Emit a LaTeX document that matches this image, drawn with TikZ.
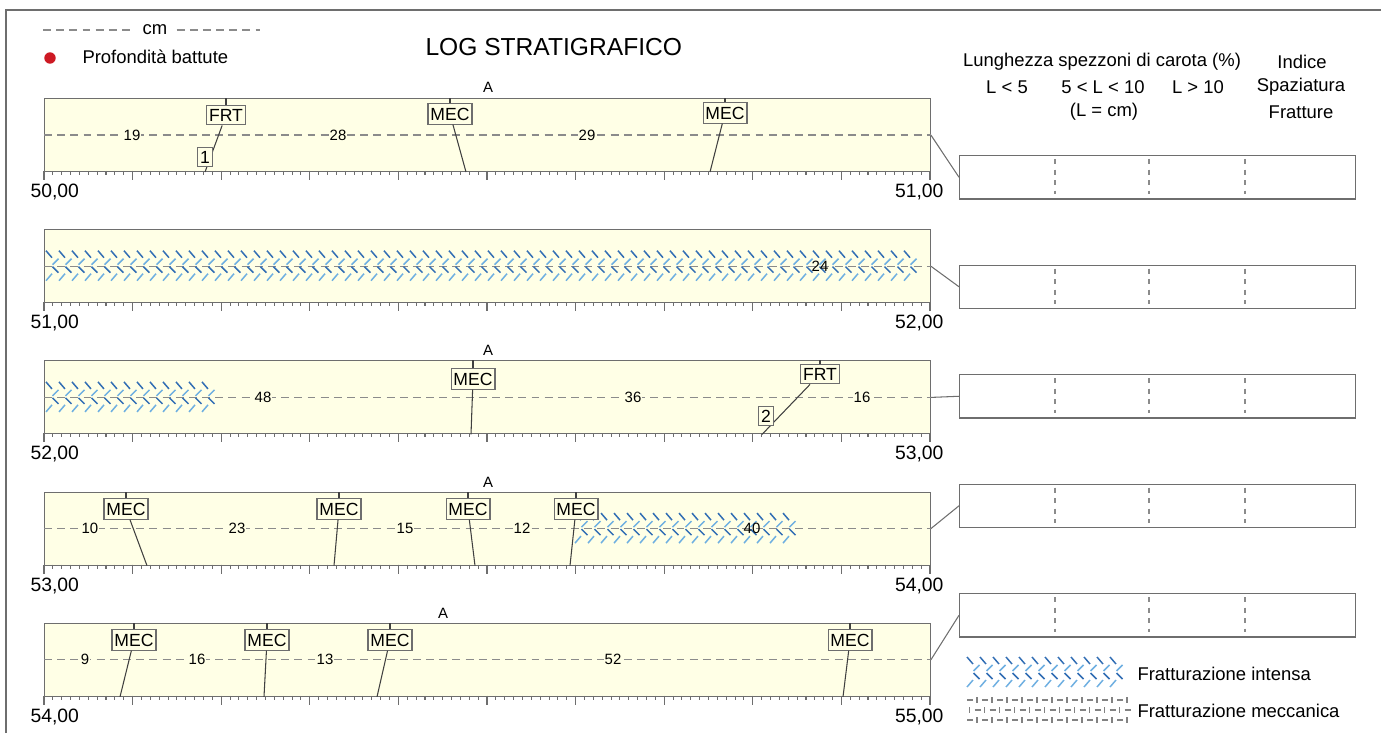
\documentclass[tikz,border=0pt]{standalone}
\usepackage{fontspec}
\setmainfont{Liberation Sans}
\definecolor{stripfill}{RGB}{255,255,230}
\definecolor{linegray}{RGB}{110,110,110}
\definecolor{hatchblue}{RGB}{50,110,180}
\definecolor{hatchlight}{RGB}{110,175,225}
\definecolor{mecgray}{RGB}{130,130,130}
\definecolor{dotred}{RGB}{205,25,35}

% fratturazione intensa: x start, x next, x end, y centre
\newcommand{\intensa}[4]{%
  \foreach \x in {#1,#2,...,#3}{
    \draw[hatchblue,line width=0.85pt] (\x,#4-15) -- ++(6,7);
    \draw[hatchlight,line width=0.85pt] (\x+6.5,#4-1) -- ++(6,-6);
    \draw[hatchblue,line width=0.85pt] (\x+6.5,#4+1) -- ++(6,6);
    \draw[hatchlight,line width=0.85pt] (\x,#4+15) -- ++(6,-7);
  }}

\begin{document}
\begin{tikzpicture}[x=0.02cm,y=-0.02cm,line width=0.6pt,
  every node/.style={inner sep=0pt,font=\fontsize{10.5}{12}\selectfont},
  strip/.style={draw=linegray,fill=stripfill,anchor=north west,minimum width=17.72cm,minimum height=1.46cm},
  cmline/.style={draw=linegray!80,dash pattern=on 4.5pt off 3pt,line width=0.7pt},
  cmval/.style={fill=stripfill,inner sep=0.6pt,font=\fontsize{8.5}{9}\selectfont},
  overval/.style={inner sep=0.6pt,font=\fontsize{8.5}{9}\selectfont},
  tag/.style={draw=linegray,fill=stripfill,inner xsep=1.4pt,inner ysep=2.2pt,font=\fontsize{10}{10}\selectfont},
  leader/.style={draw=black!75},
  rbox/.style={draw=linegray,fill=white,anchor=north west,minimum width=7.92cm,minimum height=0.87cm},
  divider/.style={draw=linegray!80,dash pattern=on 3pt off 3pt},
  depth/.style={font=\fontsize{11}{12}\selectfont},
  letter/.style={font=\fontsize{8.5}{9}\selectfont}]
\useasboundingbox (0,0) rectangle (1381,733);
\draw[linegray,line width=0.8pt] (6,733) -- (6,10) -- (1381,10);

% legenda in alto
\node (cm) at (155,30) {cm};
\coordinate (cmL) at (43,30);
\coordinate (cmR) at (260,30);
\draw[cmline] (cmL) -- ([xshift=-5pt]cm.west);
\draw[cmline] ([xshift=5pt]cm.east) -- (cmR);
\node[circle,fill=dotred,minimum size=6.5pt] (dot) at (50,58) {};
\node[anchor=west] (pb) at (82,57) {Profondità battute};
\node[anchor=west,font=\fontsize{14}{15}\selectfont] (title) at (425,47) {LOG STRATIGRAFICO};

% intestazione colonne
\node (hd) at (1102,62) {Lunghezza spezzoni di carota (\%)};
\node (l1) at (1007,87) {L < 5};
\node (l2) at (1103,87) {5 < L < 10};
\node (l3) at (1198,87) {L > 10};
\node (lc) at (1104,112) {(L = cm)};
\node (i1) at (1302,62) {Indice};
\node (i2) at (1301,87) {Spaziatura};
\node (i3) at (1301,112) {Fratture};

% strisce
\foreach \r/\t in {1/98,2/229.2,3/360.4,4/491.6,5/622.8}{
  \pgfmathsetmacro\yb{\t+73}
  \pgfmathsetmacro\yq{155+109.5*(\r-1)}
  \pgfmathtruncatemacro\da{49+\r}
  \pgfmathtruncatemacro\db{50+\r}
  \node[strip] (s\r) at (44,\t) {};
  \draw[cmline] (s\r.west) -- (s\r.east);
  \foreach \i in {0,...,100} \draw[linegray] ({44+8.86*\i},\yb) -- ++(0,4);
  \foreach \i in {0,10,...,100} \draw[linegray] ({44+8.86*\i},\yb) -- ++(0,9);
  \node[depth,anchor=west] (l\r) at (30,\yb+21) {\da,00};
  \node[depth,anchor=east] (h\r) at (944,\yb+21) {\db,00};
  \node[rbox] (r\r) at (959,\yq) {};
  \foreach \dx in {1055,1149,1245} \draw[divider] (\dx,\yq+4) -- (\dx,\yq+39);
  \draw[linegray] (s\r.east) -- (r\r.west);
}

% fratturazione intensa
\intensa{46}{59}{911}{265.7}
\intensa{46}{59}{202}{396.9}
\intensa{575}{588}{783}{528.1}

% valori in cm
\foreach \r/\cx/\v [count=\k] in {1/132/19,1/338/28,1/587/29,3/263/48,3/633/36,3/862/16,
  4/90/10,4/237/23,4/405/15,4/522/12,5/85/9,5/197/16,5/325/13,5/613/52}
  \node[cmval] (c\k) at (\cx,0 |- s\r.center) {\v};
\node[overval] (c24) at (820,0 |- s2.center) {24};
\node[overval] (c40) at (752,0 |- s4.center) {40};

% A
\node[letter] (a1) at (488,87) {A};
\node[letter] (a3) at (488,350) {A};
\node[letter] (a4) at (488,482) {A};
\node[letter] (a5) at (443,613) {A};

% discontinuita MEC
\foreach \r/\cx/\cy/\bx [count=\k] in {1/450/114/466,1/725/113/710,3/473/379/471,
  4/126/509/147,4/339/509/334,4/468/509/475,4/576/509/570,
  5/134/640/120,5/267/640/264,5/390/640/377,5/850/640/843}{
  \node[tag] (m\k) at (\cx,\cy) {MEC};
  \draw[leader] (m\k.north) -- (m\k.north |- s\r.north);
  \coordinate (e\k) at (\bx,0 |- s\r.south);
  \draw[leader] (m\k) -- (e\k);
}

% fratture FRT
\node[tag] (f1) at (226,115) {FRT};
\draw[leader] (f1.north) -- (f1.north |- s1.north);
\coordinate (d1) at (205,0 |- s1.south);
\draw[leader] (f1) -- (d1);
\node[tag,inner xsep=1.5pt,inner ysep=2pt] (n1) at (205,157) {1};
\node[tag] (f2) at (820,374) {FRT};
\draw[leader] (f2.north) -- (f2.north |- s3.north);
\coordinate (d2) at (762,0 |- s3.south);
\draw[leader] (f2) -- (d2);
\node[tag,inner xsep=1.5pt,inner ysep=2pt] (n2) at (766,416) {2};

% legenda in basso
\intensa{967}{980}{1110}{672}
\node[anchor=west] (li) at (1137,674) {Fratturazione intensa};
\foreach \x in {967,982,...,1117}{
  \draw[mecgray,line width=0.8pt] (\x,700) -- ++(6,0);
  \draw[mecgray,line width=0.8pt] (\x+10,697) -- ++(0,6);
  \draw[mecgray,line width=0.8pt] (\x+7.5,710) -- ++(6,0);
  \draw[mecgray,line width=0.8pt] (\x+2.5,707) -- ++(0,6);
  \draw[mecgray,line width=0.8pt] (\x,720) -- ++(6,0);
  \draw[mecgray,line width=0.8pt] (\x+10,717) -- ++(0,6);
}
\node[anchor=west] (lm) at (1137,711) {Fratturazione meccanica};
\end{tikzpicture}
\end{document}
